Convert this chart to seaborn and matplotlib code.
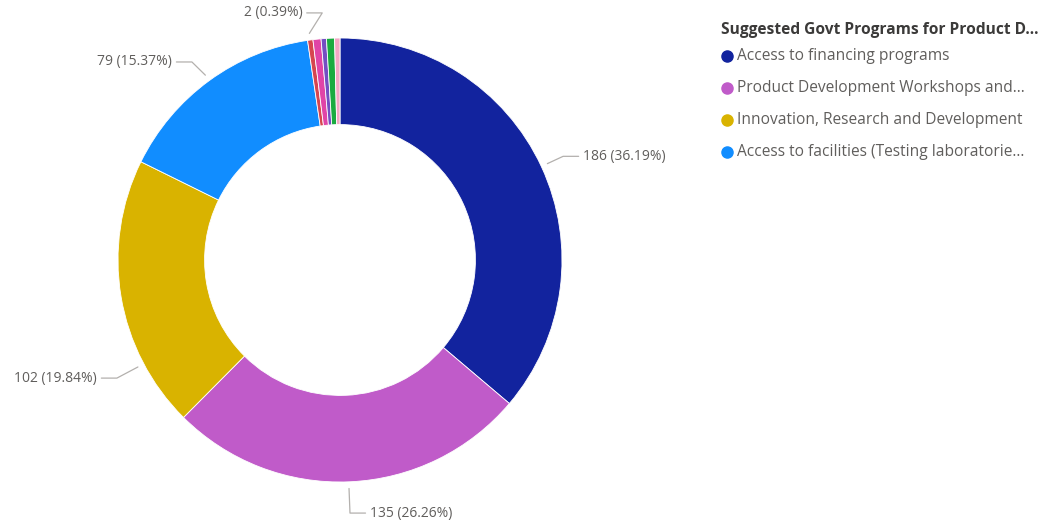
import numpy as np
import matplotlib
matplotlib.use("Agg")
import matplotlib.pyplot as plt
from matplotlib.lines import Line2D
import seaborn as sns

# Survey responses per suggested programme
programs = [
    "Access to financing programs",
    "Product Development Workshops and Trainings",
    "Innovation, Research and Development",
    "Access to facilities (Testing laboratories)",
    "Other A", "Other B", "Other C", "Other D", "Other E",
]
counts = [186, 135, 102, 79, 2, 3, 2, 3, 2]
colors = ["#12239E", "#C05BC9", "#D9B300", "#118DFF",
          "#D64550", "#E044A7", "#744EC2", "#1AAB40", "#F2A7C4"]
legend_labels = [
    "Access to financing programs",
    "Product Development Workshops and...",
    "Innovation, Research and Development",
    "Access to facilities (Testing laboratorie...",
]
legend_title = "Suggested Govt Programs for Product D..."

# Which slices carry a data label, and where the label text sits (axes data units)
label_slices = [0, 1, 2, 3, 4]
label_pos = [(1.095, 0.467), (0.135, -1.140), (-1.095, -0.532), (-0.757, 0.892), (-0.17, 1.113)]
label_ha = ["left", "left", "right", "right", "right"]

sns.set_theme(style="white")
plt.rcParams["font.family"] = ["Open Sans", "DejaVu Sans"]

W, H = 1055, 525
fig = plt.figure(figsize=(W / 100, H / 100), dpi=100)
cx, cy, r = 340, 265, 222
ax = fig.add_axes([(cx - r) / W, (cy - r) / H, 2 * r / W, 2 * r / H])

wedges, _ = ax.pie(counts, colors=colors, startangle=90, counterclock=False,
                   radius=1.0, wedgeprops=dict(width=0.39, edgecolor="white", linewidth=0.6))
ax.set_xlim(-1, 1)
ax.set_ylim(-1, 1)
ax.set_aspect("equal")
ax.axis("off")

total = sum(counts)
text_color = "#605E5C"
line_color = "#B3B0AD"
for idx, (tx, ty), ha in zip(label_slices, label_pos, label_ha):
    w = wedges[idx]
    gap = 0.02 if ha == "left" else -0.02
    hx = tx - gap
    hx2 = hx - 0.07 if ha == "left" else hx + 0.07
    # leader ends on the slice, at the angle facing the label (kept inside the slice)
    ang = np.rad2deg(np.arctan2(ty, hx2))
    lo, hi = sorted((w.theta1, w.theta2))
    while ang < lo:
        ang += 360
    while ang > hi + 360:
        ang -= 360
    if ang > hi:
        ang = (lo + hi) / 2
    a = np.deg2rad(ang)
    ax_x, ax_y = 1.03 * np.cos(a), 1.03 * np.sin(a)
    pct = counts[idx] / total * 100
    ax.text(tx, ty, f"{counts[idx]} ({pct:.2f}%)", ha=ha, va="center",
            fontsize=10, color=text_color, clip_on=False)
    ax.plot([hx, hx2, ax_x], [ty, ty, ax_y], color=line_color, lw=0.9,
            clip_on=False, solid_capstyle="round")

# Legend
fig.text(721 / W, 1 - 30 / H, legend_title, fontsize=11.2, fontweight="bold",
         color="#3B3A39", va="center", ha="left")
for i, lab in enumerate(legend_labels):
    y = 1 - (56 + 32 * i) / H
    fig.add_artist(Line2D([727 / W], [y], marker="o", markersize=8, color=colors[i],
                          linestyle="none", transform=fig.transFigure))
    fig.text(737 / W, y, lab, fontsize=11.2, color=text_color, va="center", ha="left")

fig.savefig("out.png", dpi=100, facecolor="white")
